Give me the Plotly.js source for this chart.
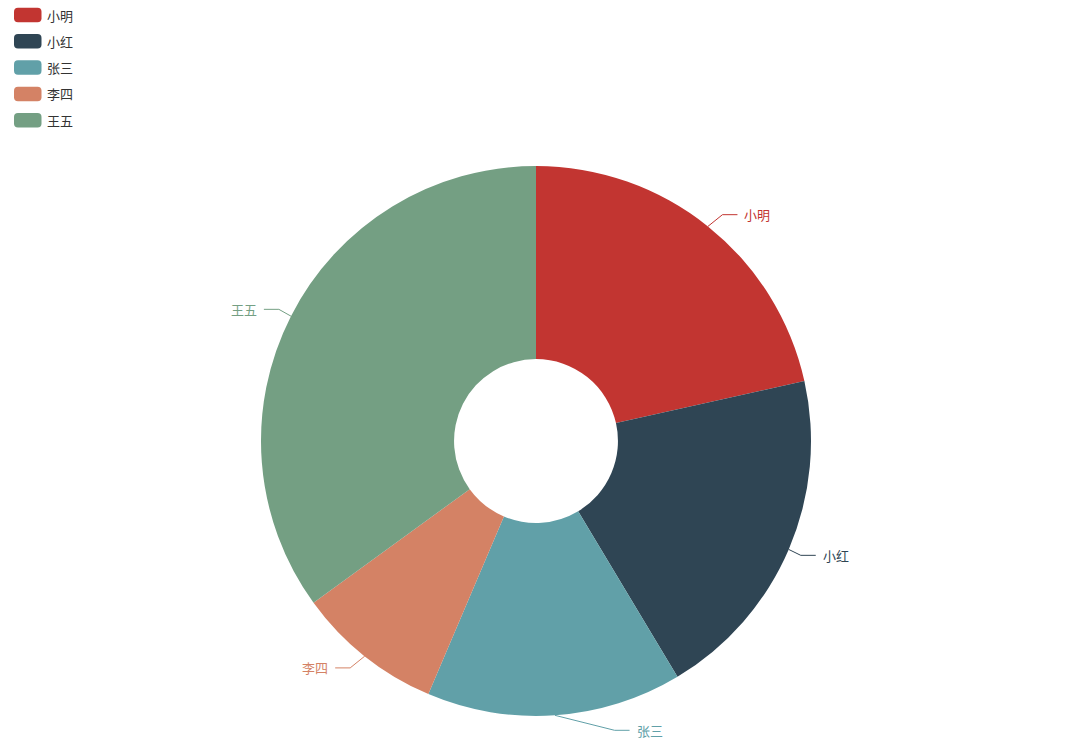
<!DOCTYPE html>
<html>
<head>
<meta charset="utf-8">
<script src="https://cdn.plot.ly/plotly-3.0.1.min.js"></script>
<style>html,body{margin:0;padding:0;background:#fff;}#chart{width:1080px;height:752px;}</style>
</head>
<body>
<div id="chart"></div>
<script>
// ---- data ----
const names = ['小明', '小红', '张三', '李四', '王五'];
const values = [215, 199, 150, 86, 350];
const colors = ['#c23531', '#2f4554', '#61a0a8', '#d48265', '#749f83'];

// ---- geometry (layout) ----
const W = 1080, H = 752;
const cx = 536, cy = 441, R = 275;
const len1 = 15, len2 = 15;
const FONT = '"Noto Sans CJK SC", "Noto Sans", sans-serif';

const px = x => x / W;
const py = y => 1 - y / H;

const total = values.reduce((a, b) => a + b, 0);
const shapes = [];
const annotations = [];

// label layout (echarts-like)
let acc = 0;
const labels = values.map((v, i) => {
  const mid = (acc + v / 2) / total * 2 * Math.PI;
  acc += v;
  const dx = Math.sin(mid), dy = -Math.cos(mid);
  const x1 = cx + dx * R, y1 = cy + dy * R;
  const y2 = cy + dy * (R + len1);
  const dir = dx < 0 ? -1 : 1;
  const ddy = Math.abs(y2 - cy);
  const rr = R + len1 + len2;
  const ddx = ddy < R + len1 ? Math.sqrt(rr * rr - ddy * ddy) : Math.abs(dx * (R + len1)) + len2;
  const x3 = cx + dir * (ddx - 3);
  const x2 = x3 - dir * len2;
  return {i, x1, y1, x2, y2, x3, dir};
});

labels.forEach(l => {
  shapes.push({
    type: 'path', xref: 'paper', yref: 'paper',
    path: `M ${px(l.x1)} ${py(l.y1)} L ${px(l.x2)} ${py(l.y2)} L ${px(l.x3)} ${py(l.y2)}`,
    line: {color: colors[l.i], width: 1}
  });
  annotations.push({
    xref: 'paper', yref: 'paper', x: px(l.x3 + l.dir * 5), y: py(l.y2),
    xanchor: l.dir < 0 ? 'right' : 'left', yanchor: 'middle',
    text: names[l.i], showarrow: false,
    font: {family: FONT, size: 13, color: colors[l.i]}
  });
});

// custom legend (rounded rectangles)
const lgX = 14, lgY = 15, lgStep = 26.3, lgW = 27.5, lgH = 14.5, rad = 4;
names.forEach((n, i) => {
  const yc = lgY + i * lgStep;
  const x0 = lgX, x1 = lgX + lgW, y0 = yc - lgH / 2, y1 = yc + lgH / 2;
  const p = [
    `M ${px(x0 + rad)} ${py(y0)}`,
    `L ${px(x1 - rad)} ${py(y0)}`,
    `Q ${px(x1)} ${py(y0)} ${px(x1)} ${py(y0 + rad)}`,
    `L ${px(x1)} ${py(y1 - rad)}`,
    `Q ${px(x1)} ${py(y1)} ${px(x1 - rad)} ${py(y1)}`,
    `L ${px(x0 + rad)} ${py(y1)}`,
    `Q ${px(x0)} ${py(y1)} ${px(x0)} ${py(y1 - rad)}`,
    `L ${px(x0)} ${py(y0 + rad)}`,
    `Q ${px(x0)} ${py(y0)} ${px(x0 + rad)} ${py(y0)} Z`
  ].join(' ');
  shapes.push({type: 'path', xref: 'paper', yref: 'paper', path: p,
    fillcolor: colors[i], line: {width: 0}});
  annotations.push({
    xref: 'paper', yref: 'paper', x: px(45), y: py(yc),
    xanchor: 'left', yanchor: 'middle', text: n, showarrow: false,
    font: {family: FONT, size: 13, color: '#333'}
  });
});

const trace = {
  type: 'pie',
  labels: names,
  values: values,
  sort: false,
  direction: 'clockwise',
  rotation: 0,
  hole: 0.298,
  textinfo: 'none',
  hoverinfo: 'label+value+percent',
  marker: {colors: colors, line: {width: 0}},
  domain: {x: [px(cx - R), px(cx + R)], y: [py(cy + R), py(cy - R)]}
};

const layout = {
  width: W, height: H,
  margin: {l: 0, r: 0, t: 0, b: 0},
  paper_bgcolor: '#fff',
  showlegend: false,
  shapes: shapes,
  annotations: annotations,
  font: {family: FONT}
};

Plotly.newPlot('chart', [trace], layout, {displayModeBar: false, staticPlot: true});
</script>
</body>
</html>
